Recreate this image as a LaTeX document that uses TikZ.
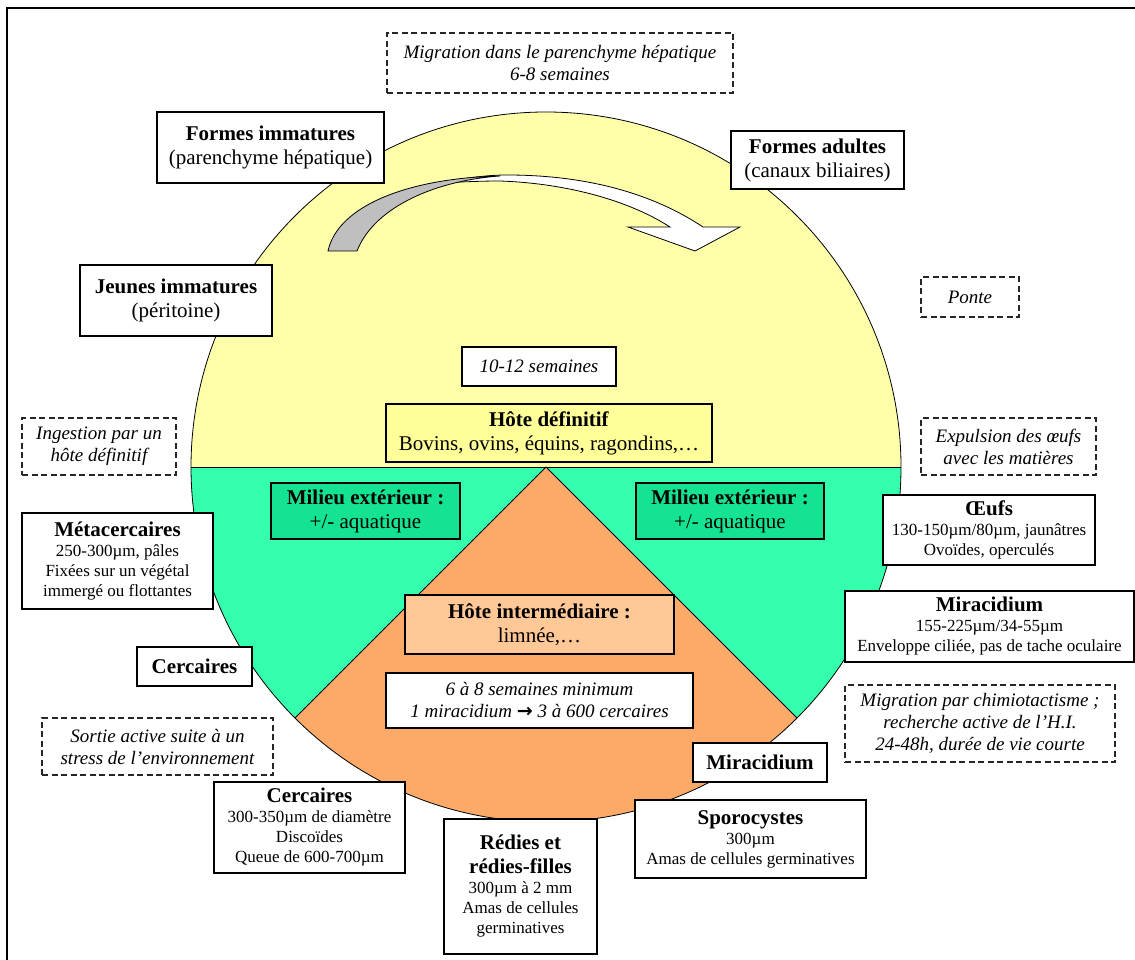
\documentclass[tikz,border=0pt]{standalone}
\usepackage{fontspec}
\usetikzlibrary{calc}
\setmainfont{Liberation Serif}
\newfontfamily\arrowfont{DejaVu Sans}
\definecolor{cyellow}{HTML}{FFFFAA}
\definecolor{cgreen}{HTML}{33FFAD}
\definecolor{corange}{HTML}{FDAA68}
\definecolor{hdfill}{HTML}{FFFF99}
\definecolor{milfill}{HTML}{14E391}
\definecolor{hifill}{HTML}{FFC896}
\newcommand\ttlb[1]{{\fontsize{21}{24}\selectfont\bfseries #1}}
\begin{document}
\begin{tikzpicture}[x=1pt,y=1pt,
  box/.style={draw=black, line width=1.6pt, fill=white, inner sep=0pt, align=center},
  dbox/.style={draw=black!85, line width=1.4pt, dash pattern=on 6pt off 3.5pt, fill=white, inner sep=0pt, align=center, font=\fontsize{19}{22}\selectfont\itshape},
  bigtxt/.style={font=\fontsize{21}{24}\selectfont},
  smalltxt/.style={font=\fontsize{17}{20}\selectfont},
  itxt/.style={font=\fontsize{19}{22}\selectfont\itshape},
  region/.style={draw=black, line width=0.8pt}
]
\useasboundingbox (0,0) rectangle (1135,-960);
% frame
\draw[line width=2pt] (1145,-8) -- (7,-8) -- (7,-970);
% circle regions
\coordinate (c) at (546,-467);
\fill[cyellow] (191,-467) arc[start angle=180, end angle=0, radius=355] -- cycle;
\fill[cgreen] (901,-467) arc[start angle=0, end angle=-180, radius=355] -- cycle;
\fill[corange] (c) -- ++(-135:355) arc[start angle=-135, end angle=-45, radius=355] -- cycle;
\draw[region] (c) circle[radius=355];
\draw[region] (191,-467) -- (901,-467);
\draw[region] ($(c)+(-135:355)$) -- (c) -- ($(c)+(-45:355)$);
% curved arrow
\draw[line width=0.8pt, fill=white] (440,-183) .. controls (470,-177) and (490,-175) .. (507,-175) .. controls (590,-175) and (655,-195) .. (703,-227) -- (740,-227) -- (695,-251) -- (628,-227) -- (670,-227) .. controls (625,-198) and (560,-183) .. (500,-181) .. controls (480,-181) and (460,-182) .. (440,-183) -- cycle;
\draw[line width=0.8pt, fill=black!25] (328,-251) .. controls (338,-205) and (410,-178) .. (500,-176) .. controls (440,-180) and (375,-205) .. (357,-251) -- cycle;
% nodes
\node[dbox, minimum width=346pt, minimum height=60pt] (mig) at (560,-63) {Migration dans le parenchyme hépatique\\6-8 semaines};
\node[box,bigtxt,minimum width=227pt,minimum height=71pt] (fimm) at (270.5,-147.5) {\textbf{Formes immatures}\\(parenchyme hépatique)};
\node[box,bigtxt,minimum width=173pt,minimum height=58pt] (fad) at (817.5,-160) {\textbf{Formes adultes}\\(canaux biliaires)};
\node[box,bigtxt,minimum width=192pt,minimum height=71pt] (jeun) at (176,-300.5) {\textbf{Jeunes immatures}\\(péritoine)};
\node[dbox,minimum width=98pt,minimum height=40pt] (ponte) at (970,-297) {Ponte};
\node[box,itxt,minimum width=154pt,minimum height=39pt] (s1012) at (539,-366.5) {10-12 semaines};
\node[box,bigtxt,fill=hdfill,minimum width=326pt,minimum height=58pt] (hdef) at (549,-433) {\textbf{Hôte définitif}\\Bovins, ovins, équins, ragondins,…};
\node[dbox,minimum width=154pt,minimum height=57pt] (ing) at (99,-446.5) {Ingestion par un\\hôte définitif};
\node[dbox,minimum width=175pt,minimum height=57pt] (expu) at (1008.5,-446.5) {Expulsion des œufs\\avec les matières};
\node[box,bigtxt,fill=milfill,minimum width=189pt,minimum height=56pt] (mil1) at (365.5,-511) {\textbf{Milieu extérieur~:}\\+/- aquatique};
\node[box,bigtxt,fill=milfill,minimum width=188pt,minimum height=56pt] (mil2) at (730,-511) {\textbf{Milieu extérieur~:}\\+/- aquatique};
\node[box,smalltxt,minimum width=191pt,minimum height=96pt] (meta) at (117.5,-561) {\ttlb{Métacercaires}\\250-300µm, pâles\\Fixées sur un végétal\\immergé ou flottantes};
\node[box,smalltxt,minimum width=212pt,minimum height=70pt] (oeufs) at (989,-530) {\ttlb{Œufs}\\130-150µm/80µm, jaunâtres\\Ovoïdes, operculés};
\node[box,smalltxt,minimum width=289pt,minimum height=71pt] (mira1) at (989.5,-626.5) {\ttlb{Miracidium}\\155-225µm/34-55µm\\Enveloppe ciliée, pas de tache oculaire};
\node[box,bigtxt,fill=hifill,minimum width=269pt,minimum height=59pt] (hint) at (539.5,-624.5) {\textbf{Hôte intermédiaire~:}\\limnée,…};
\node[box,bigtxt,minimum width=115pt,minimum height=39pt] (cerc1) at (194.5,-666.5) {\textbf{Cercaires}};
\node[box,itxt,minimum width=307pt,minimum height=55pt] (s68) at (539.5,-700.5) {6 à 8 semaines minimum\\1 miracidium {\arrowfont\bfseries\upshape →} 3 à 600 cercaires};
\node[dbox,minimum width=270pt,minimum height=77pt] (chim) at (980,-723.5) {Migration par chimiotactisme~;\\recherche active de l'H.I.\\24-48h, durée de vie courte};
\node[dbox,minimum width=231pt,minimum height=57pt] (sortie) at (157.5,-746.5) {Sortie active suite à un\\stress de l'environnement};
\node[box,bigtxt,minimum width=134pt,minimum height=39pt] (mira2) at (760,-762.5) {\textbf{Miracidium}};
\node[box,smalltxt,minimum width=191pt,minimum height=91pt] (cerc2) at (309.5,-827.5) {\ttlb{Cercaires}\\300-350µm de diamètre\\Discoïdes\\Queue de 600-700µm};
\node[box,smalltxt,minimum width=153pt,minimum height=135pt] (redies) at (520.5,-886.5) {\ttlb{Rédies et}\\[4pt]\ttlb{rédies-filles}\\300µm à 2 mm\\Amas de cellules\\germinatives};
\node[box,smalltxt,minimum width=231pt,minimum height=78pt] (sporo) at (750.5,-839) {\ttlb{Sporocystes}\\300µm\\Amas de cellules germinatives};
\end{tikzpicture}
\end{document}
